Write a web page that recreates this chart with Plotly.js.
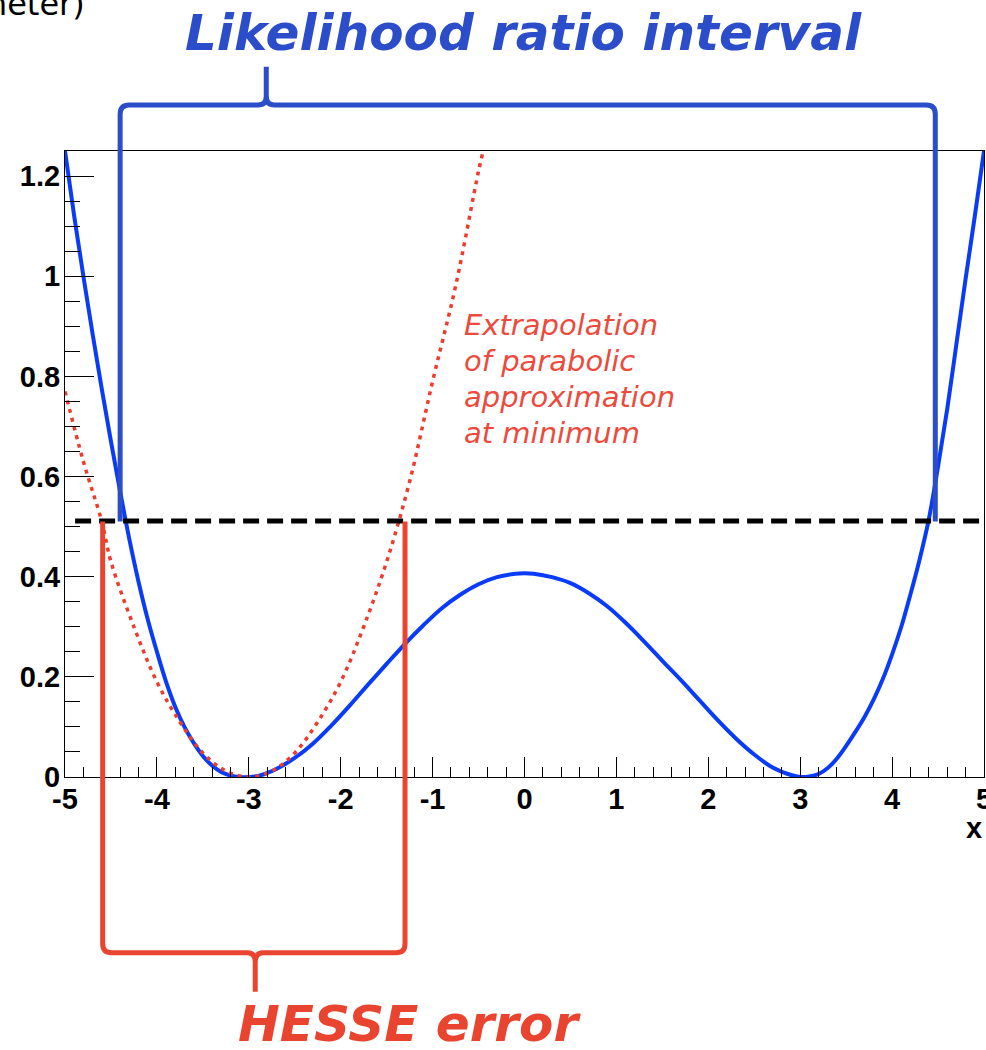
<!DOCTYPE html>
<html>
<head>
<meta charset="utf-8">
<script src="https://cdn.plot.ly/plotly-3.0.1.min.js"></script>
<style>
  html, body { margin: 0; padding: 0; background: #ffffff; }
  #chart { width: 986px; height: 1050px; }
</style>
</head>
<body>
<div id="chart"></div>
<script>
// ---- data ----
// profile likelihood (blue, solid)
const nllX = [-5.0, -4.9, -4.8, -4.7, -4.6, -4.5, -4.4, -4.3, -4.2, -4.1, -4.0, -3.9, -3.8, -3.7, -3.6,
              -3.5, -3.4, -3.3, -3.2, -3.1, -3.0, -2.9, -2.8, -2.7, -2.5, -2.3, -2.1, -1.9, -1.7, -1.5,
              -1.3, -1.1, -0.9, -0.7, -0.5, -0.3, -0.1, 0.0, 0.1, 0.3, 0.5, 0.7, 0.9, 1.1, 1.3, 1.5,
              1.7, 1.9, 2.1, 2.3, 2.5, 2.7, 2.9, 3.0, 3.1, 3.2, 3.3, 3.4, 3.5, 3.6, 3.7, 3.8, 3.9,
              4.0, 4.1, 4.2, 4.3, 4.4, 4.5, 4.6, 4.7, 4.8, 4.9, 5.0];
const nllY = [1.25, 1.12, 1.0, 0.885, 0.775, 0.67, 0.57, 0.475, 0.39, 0.315, 0.25, 0.19, 0.14, 0.1, 0.068,
              0.042, 0.023, 0.01, 0.003, 0.0, 0.0, 0.002, 0.008, 0.016, 0.038, 0.067, 0.103, 0.143, 0.185, 0.226,
              0.266, 0.303, 0.337, 0.364, 0.385, 0.399, 0.406, 0.407, 0.406, 0.399, 0.387, 0.367, 0.341, 0.308, 0.271, 0.232,
              0.194, 0.154, 0.114, 0.077, 0.045, 0.019, 0.004, 0.0, 0.001, 0.006, 0.018, 0.037, 0.062, 0.09, 0.12, 0.155, 0.196,
              0.245, 0.3, 0.365, 0.435, 0.515, 0.62, 0.735, 0.865, 0.995, 1.12, 1.25];
// parabolic approximation at the minimum (red, dotted)
const paraX = [-5.0, -4.8, -4.6, -4.5, -4.25, -4.0, -3.75, -3.5, -3.25, -3.0, -2.75, -2.5, -2.25,
               -2.0, -1.75, -1.5, -1.25, -1.0, -0.75, -0.5, -0.45];
const paraY = [0.77, 0.63, 0.51, 0.43, 0.30, 0.19, 0.11, 0.048, 0.012, 0.0, 0.012, 0.048, 0.11,
               0.19, 0.30, 0.43, 0.59, 0.79, 0.98, 1.21, 1.25];
// Delta NLL = 0.5 level (black, dashed)
const levelX = [-4.89, 5.0];
const levelY = [0.511, 0.511];
// interval ends
const lrInterval = [-4.40, 4.47];
const hesseInterval = [-4.59, -1.30];
// tick labels
const xTickVals = [-5, -4, -3, -2, -1, 0, 1, 2, 3, 4, 5];
const xTickText = ['-5', '-4', '-3', '-2', '-1', '0', '1', '2', '3', '4', '5'];
const yTickVals = [0, 0.2, 0.4, 0.6, 0.8, 1.0, 1.2];
const yTickText = ['0', '0.2', '0.4', '0.6', '0.8', '1', '1.2'];
// note lines and their vertical positions (data units)
const noteLines = ['Extrapolation', 'of parabolic', 'approximation', 'at minimum'];
const noteY = [0.903, 0.831, 0.759, 0.687];

// ---- layout constants ----
const xRange = [-5, 5];
const yRange = [0, 1.25];
const M = { l: 65, r: 2, t: 151, b: 273 };
const W = 986, H = 1050;
const PW = W - M.l - M.r, PH = H - M.t - M.b;
const X = v => (v - xRange[0]) / (xRange[1] - xRange[0]);
const Y = v => (v - yRange[0]) / (yRange[1] - yRange[0]);
const ox = n => n / PW;
const oy = n => n / PH;

const blueBr = '#2b4dca';
const redBr = '#e9442f';

function bracketPath(xa, xb, yEnd, yBar, xs, ySpike) {
  const s = Math.sign(ySpike - yBar);
  const rx = ox(9), ry = oy(9) * s;
  const yb = Y(yBar);
  const p = [];
  p.push('M' + X(xa) + ',' + Y(yEnd));
  p.push('L' + X(xa) + ',' + (yb - ry));
  p.push('Q' + X(xa) + ',' + yb + ' ' + (X(xa) + rx) + ',' + yb);
  p.push('L' + (X(xs) - ox(8)) + ',' + yb);
  p.push('Q' + X(xs) + ',' + yb + ' ' + X(xs) + ',' + (yb + oy(9) * s));
  p.push('L' + X(xs) + ',' + Y(ySpike));
  p.push('L' + X(xs) + ',' + (yb + oy(9) * s));
  p.push('Q' + X(xs) + ',' + yb + ' ' + (X(xs) + ox(8)) + ',' + yb);
  p.push('L' + (X(xb) - rx) + ',' + yb);
  p.push('Q' + X(xb) + ',' + yb + ' ' + X(xb) + ',' + (yb - ry));
  p.push('L' + X(xb) + ',' + Y(yEnd));
  return p.join(' ');
}

const traces = [
  { x: nllX, y: nllY, type: 'scatter', mode: 'lines', line: { color: '#0a3cf7', width: 4, shape: 'spline', smoothing: 1 }, hoverinfo: 'skip' },
  { x: paraX, y: paraY, type: 'scatter', mode: 'lines', line: { color: '#ee3b2e', width: 3.5, dash: '4px,5px', shape: 'spline' }, hoverinfo: 'skip' },
  { x: levelX, y: levelY, type: 'scatter', mode: 'lines', line: { color: '#000000', width: 5, dash: '16px,8px' }, hoverinfo: 'skip' }
];

const tickFont = { family: 'Liberation Sans, Arial, sans-serif', size: 29, weight: 'bold', color: '#000000' };
const noteFont = { family: 'DejaVu Sans', size: 29, style: 'italic', color: '#ec4a3c' };

const annotations = [
  { xref: 'paper', yref: 'paper', x: X(-0.01), y: 1.1885, xanchor: 'center', yanchor: 'middle', showarrow: false,
    text: 'Likelihood ratio interval',
    font: { family: 'DejaVu Sans', size: 50, weight: 'bold', style: 'italic', color: blueBr } },
  { xref: 'paper', yref: 'paper', x: X(-1.25), y: -0.394, xanchor: 'center', yanchor: 'middle', showarrow: false,
    text: 'HESSE error',
    font: { family: 'DejaVu Sans', size: 50, weight: 'bold', style: 'italic', color: redBr } },
  { xref: 'paper', yref: 'paper', x: 1, y: -0.0815, xanchor: 'right', yanchor: 'middle', showarrow: false,
    text: 'x', font: tickFont },
  { xref: 'paper', yref: 'paper', x: ox(22), y: 1.2013, xanchor: 'right', yanchor: 'bottom', showarrow: false,
    text: 'meter)', font: { family: 'DejaVu Sans', size: 32, color: '#000000' } }
];
noteLines.forEach((t, i) => annotations.push({
  xref: 'x', yref: 'y', x: -0.68, y: noteY[i], xanchor: 'left', yanchor: 'middle', showarrow: false,
  text: t, font: noteFont
}));

const layout = {
  width: W, height: H,
  margin: { l: M.l, r: M.r, t: M.t, b: M.b, pad: 0 },
  paper_bgcolor: '#ffffff', plot_bgcolor: '#ffffff',
  showlegend: false,
  xaxis: {
    range: xRange, showgrid: false, zeroline: false,
    showline: true, mirror: true, linecolor: '#000000', linewidth: 1,
    tickmode: 'array', tickvals: xTickVals, ticktext: xTickText,
    ticks: 'inside', ticklen: 20, tickwidth: 1, tickcolor: '#000000',
    ticklabeloverflow: 'allow', ticklabelstandoff: -4,
    minor: { tickmode: 'linear', tick0: 0, dtick: 0.2, ticks: 'inside', ticklen: 10, tickwidth: 1, tickcolor: '#000000' },
    tickfont: tickFont
  },
  yaxis: {
    range: yRange, showgrid: false, zeroline: false,
    showline: true, mirror: true, linecolor: '#000000', linewidth: 1,
    tickmode: 'array', tickvals: yTickVals, ticktext: yTickText,
    ticks: 'inside', ticklen: 29, tickwidth: 1, tickcolor: '#000000',
    ticklabeloverflow: 'allow', ticklabelstandoff: -2,
    minor: { tickmode: 'linear', tick0: 0, dtick: 0.05, ticks: 'inside', ticklen: 15, tickwidth: 1, tickcolor: '#000000' },
    tickfont: tickFont
  },
  shapes: [
    { type: 'path', xref: 'paper', yref: 'paper', layer: 'above',
      path: bracketPath(lrInterval[0], lrInterval[1], 0.51, 1.342, -2.81, 1.418),
      line: { color: blueBr, width: 5 } },
    { type: 'path', xref: 'paper', yref: 'paper', layer: 'above',
      path: bracketPath(hesseInterval[0], hesseInterval[1], 0.51, -0.351, -2.93, -0.429),
      line: { color: redBr, width: 5 } }
  ],
  annotations: annotations
};

Plotly.newPlot('chart', traces, layout, { displayModeBar: false, staticPlot: true });
</script>
</body>
</html>
